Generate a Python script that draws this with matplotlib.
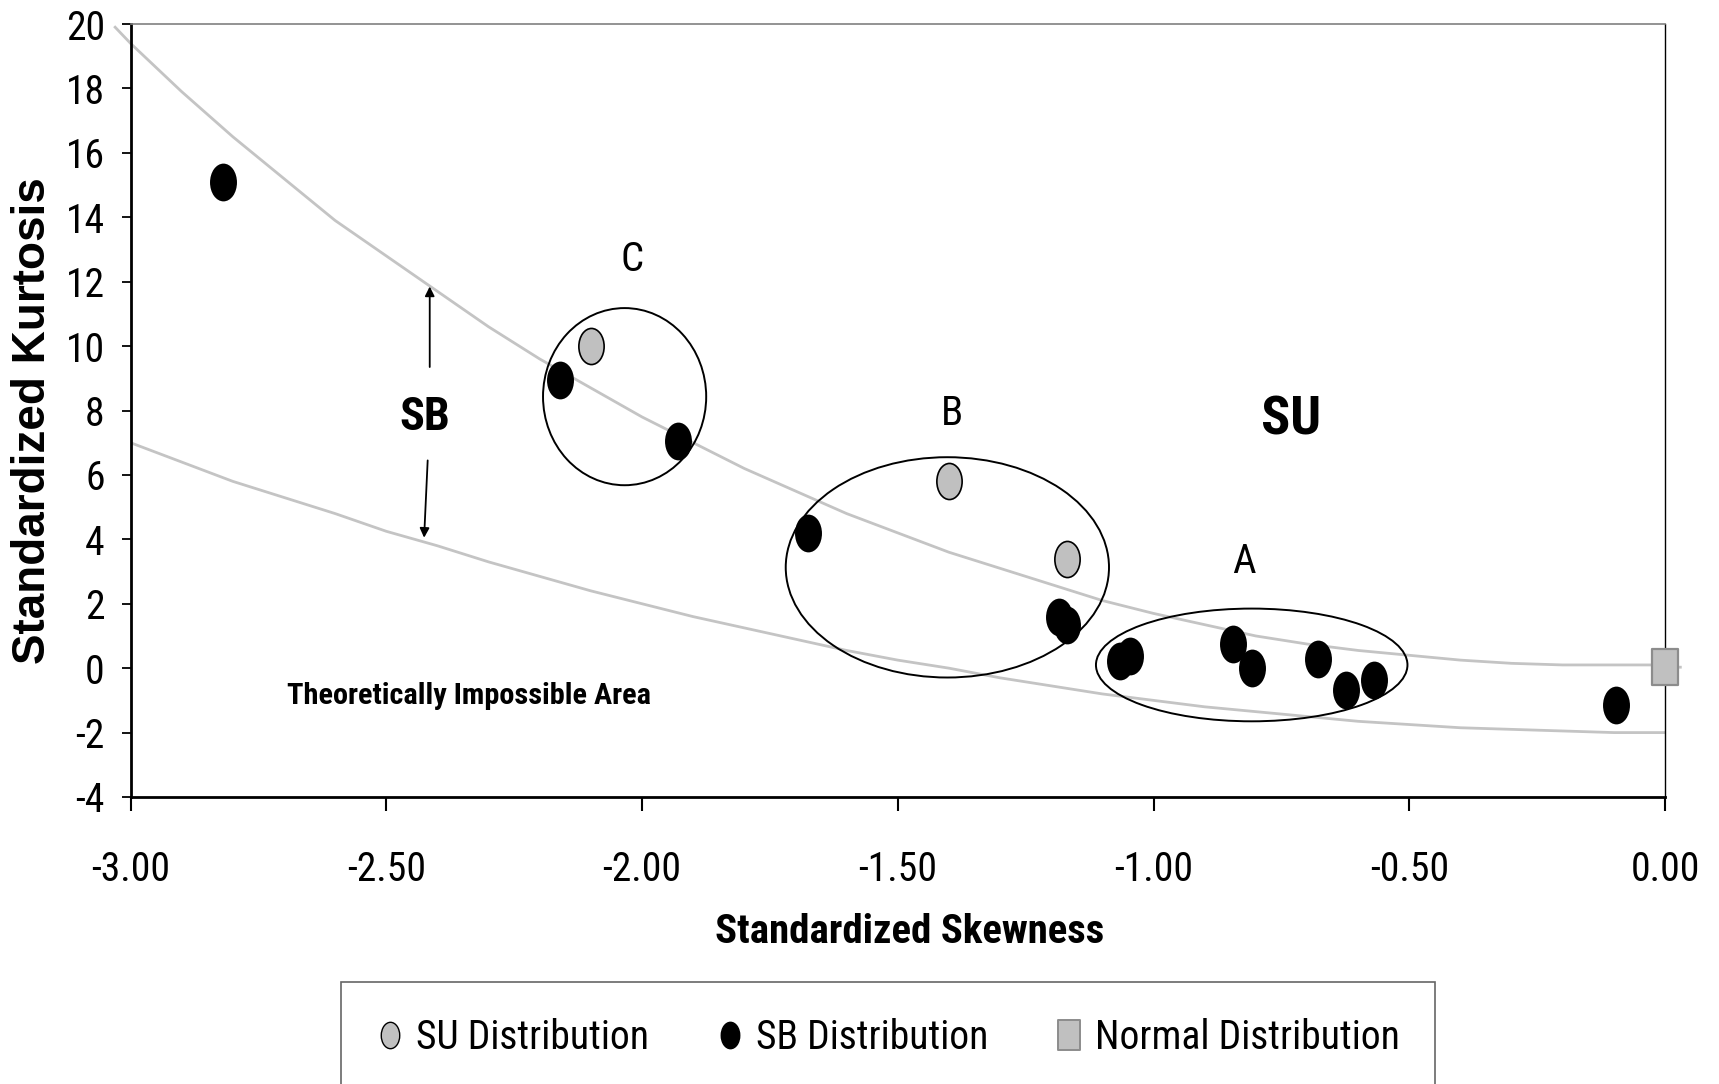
import numpy as np
import matplotlib
matplotlib.use("Agg")
import matplotlib.pyplot as plt
import matplotlib.font_manager as fm
from matplotlib.path import Path
from matplotlib.transforms import Affine2D
from matplotlib.patches import Ellipse
from matplotlib.lines import Line2D
from matplotlib.ticker import FormatStrFormatter

# data
su_skew = [-2.10, -1.40, -1.17]
su_kurt = [10.0, 5.8, 3.4]

sb_skew = [-2.82, -2.16, -1.93, -1.675, -1.185, -1.17, -1.065, -1.045,
           -0.845, -0.808, -0.678, -0.624, -0.568, -0.095]
sb_kurt = [15.1, 8.95, 7.05, 4.2, 1.58, 1.34, 0.23, 0.38,
           0.76, 0.0, 0.3, -0.68, -0.36, -1.14]

normal_skew = [0.0]
normal_kurt = [0.05]

# SU / SB boundary line
upper_skew = [-3.03, -3.0, -2.9, -2.8, -2.7, -2.6, -2.5, -2.4, -2.3, -2.2, -2.1,
              -2.0, -1.9, -1.8, -1.7, -1.6, -1.5, -1.4, -1.3, -1.2, -1.1,
              -1.0, -0.9, -0.8, -0.7, -0.6, -0.5, -0.4, -0.3, -0.2, -0.1,
              -0.02, 0.0, 0.03]
upper_kurt = [19.9, 19.4, 17.9, 16.5, 15.2, 13.9, 12.8, 11.7, 10.6, 9.6, 8.7,
              7.8, 7.0, 6.2, 5.5, 4.8, 4.2, 3.6, 3.1, 2.6, 2.1,
              1.7, 1.35, 1.0, 0.75, 0.55, 0.4, 0.25, 0.15, 0.1, 0.1,
              0.1, 0.03, 0.03]

# impossible-area boundary line
lower_skew = [-3.0, -2.9, -2.8, -2.7, -2.6, -2.5, -2.4, -2.3, -2.2, -2.1,
              -2.0, -1.9, -1.8, -1.7, -1.6, -1.5, -1.4, -1.3, -1.2, -1.1,
              -1.0, -0.9, -0.8, -0.7, -0.6, -0.5, -0.4, -0.3, -0.2, -0.1, 0.0]
lower_kurt = [7.0, 6.4, 5.8, 5.3, 4.8, 4.25, 3.8, 3.3, 2.85, 2.4,
              2.0, 1.6, 1.25, 0.9, 0.55, 0.25, 0.0, -0.3, -0.55, -0.8,
              -1.0, -1.2, -1.35, -1.5, -1.65, -1.75, -1.85, -1.9, -1.95, -2.0, -2.0]

x_ticks = [-3.0, -2.5, -2.0, -1.5, -1.0, -0.5, 0.0]
y_ticks = list(range(-4, 21, 2))

# cluster rings: label, centre, width, height, label position
clusters = [
    ("C", (-2.034, 8.43), 0.319, 5.5, (-2.02, 12.7)),
    ("B", (-1.403, 3.13), 0.632, 6.84, (-1.393, 7.9)),
    ("A", (-0.808, 0.10), 0.609, 3.5, (-0.823, 3.3)),
]

# fonts: pick a condensed face when one is there
names = {f.name for f in fm.fontManager.ttflist}
NARROW, k = "Liberation Sans", 0.88
for cand, kk in [("Liberation Sans Narrow", 1.0), ("Roboto Condensed", 0.95),
                 ("Open Sans Condensed", 0.95)]:
    if cand in names:
        NARROW, k = cand, kk
        break
plt.rcParams["axes.unicode_minus"] = False
plt.rcParams["font.family"] = [NARROW, "DejaVu Sans"]

fig = plt.figure(figsize=(17.19, 10.84), dpi=100)
ax = fig.add_axes([130.5 / 1719, 1 - 797 / 1084, 1534.5 / 1719, 773 / 1084])

ell = Path.unit_circle().transformed(Affine2D().scale(0.7, 1.0))
box = Path([(-0.73, -1), (0.73, -1), (0.73, 1), (-0.73, 1), (-0.73, -1)],
           [Path.MOVETO, Path.LINETO, Path.LINETO, Path.LINETO, Path.CLOSEPOLY])

ax.plot(upper_skew, upper_kurt, color="#c4c4c4", lw=2, clip_on=False, zorder=2)
ax.plot(lower_skew, lower_kurt, color="#c4c4c4", lw=2, zorder=2)

for name, c, w, h, lp in clusters:
    ax.add_patch(Ellipse(c, w, h, fill=False, ec="black", lw=1.4, zorder=3))
    ax.text(lp[0], lp[1], name, fontsize=31 * k, ha="center", va="center")

ax.plot(su_skew, su_kurt, ls="none", marker=ell, ms=26, mfc="#c0c0c0",
        mec="black", mew=1.2, zorder=4)
ax.plot(sb_skew, sb_kurt, ls="none", marker=ell, ms=26, mfc="black",
        mec="black", mew=1.2, zorder=4)
ax.plot(normal_skew, normal_kurt, ls="none", marker=box, ms=26, mfc="#c0c0c0",
        mec="#8c8c8c", mew=1.6, zorder=4, clip_on=False)

ax.text(-2.424, 7.8, "SB", fontsize=35 * k, fontweight="bold", ha="center", va="center")
ax.text(-0.731, 7.7, "SU", fontsize=41 * k, fontweight="bold", ha="center", va="center")
ax.text(-2.338, -0.85, "Theoretically Impossible Area", fontsize=23 * k,
        fontweight="bold", ha="center", va="center")
ax.annotate("", xy=(-2.415, 11.85), xytext=(-2.415, 9.35),
            arrowprops=dict(arrowstyle="-|>", color="black", lw=1.3,
                            mutation_scale=14, shrinkA=0, shrinkB=0))
ax.annotate("", xy=(-2.426, 4.05), xytext=(-2.419, 6.45),
            arrowprops=dict(arrowstyle="-|>", color="black", lw=1.3,
                            mutation_scale=14, shrinkA=0, shrinkB=0))

ax.set_xlim(-3, 0)
ax.set_ylim(-4, 20)
ax.set_xticks(x_ticks)
ax.set_yticks(y_ticks)
ax.xaxis.set_major_formatter(FormatStrFormatter("%.2f"))
ax.tick_params(axis="x", direction="out", length=10, width=1.5, pad=28, labelsize=30 * k)
ax.tick_params(axis="y", direction="out", length=6.5, width=1.3, pad=12, labelsize=30 * k)
for side, col, lw in [("left", "black", 2), ("bottom", "black", 2),
                      ("top", "#808080", 1.2), ("right", "black", 1)]:
    ax.spines[side].set_color(col)
    ax.spines[side].set_linewidth(lw)

fig.text(33 / 1719, 1 - 421 / 1084, "Standardized Kurtosis", rotation=90,
         ha="center", va="center", fontsize=33, fontweight="bold",
         family=["Liberation Sans", "DejaVu Sans"])
fig.text(910 / 1719, 1 - 932 / 1084, "Standardized Skewness", ha="center",
         va="center", fontsize=31 * k, fontweight="bold")

handles = [
    Line2D([], [], ls="none", marker=ell, ms=19, mfc="#c0c0c0", mec="black", mew=1),
    Line2D([], [], ls="none", marker=ell, ms=19, mfc="black", mec="black", mew=1),
    Line2D([], [], ls="none", marker=box, ms=21, mfc="#c0c0c0", mec="#8c8c8c", mew=1.4),
]
labels = ["SU Distribution", "SB Distribution", "Normal Distribution"]
leg = fig.legend(handles, labels, loc="upper left",
                 bbox_to_anchor=(341 / 1719, 1 - 982 / 1084, 1094 / 1719, 0),
                 mode="expand", ncol=3, frameon=True, fancybox=False,
                 edgecolor="#404040", borderaxespad=0, borderpad=0.9,
                 handlelength=0.7, handletextpad=0.3, prop={"size": 30 * k})
leg.get_frame().set_linewidth(1.2)

fig.savefig("out.png", dpi=100, facecolor="white")
